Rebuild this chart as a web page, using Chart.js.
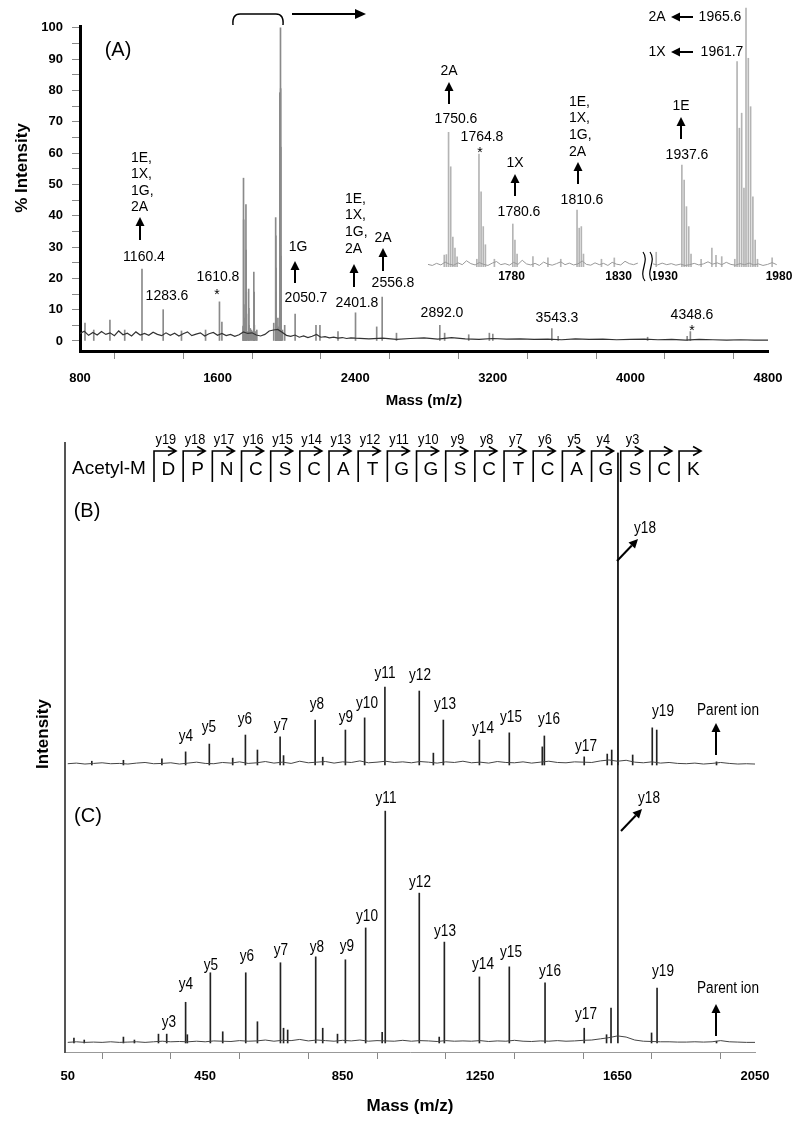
<!DOCTYPE html>
<html><head><meta charset="utf-8">
<script src="https://cdn.jsdelivr.net/npm/chart.js@4.4.0/dist/chart.umd.min.js"></script>
<style>
html,body{margin:0;padding:0;background:#fff;}
#wrap{position:relative;width:800px;height:1128px;overflow:hidden;background:#fff;}
canvas{position:absolute;}
</style></head><body>
<div id="wrap">
<canvas id="cA" width="800" height="420" style="left:0;top:0;width:800px;height:420px"></canvas>
<canvas id="cI1" width="212" height="290" style="left:428px;top:0;width:212px;height:290px"></canvas>
<canvas id="cI2" width="147" height="290" style="left:653px;top:0;width:147px;height:290px"></canvas>
<canvas id="cBC" width="800" height="718" style="left:0;top:410px;width:800px;height:718px"></canvas>
</div>
<script>
// ---------------- DATA ----------------
// Panel A (MALDI spectrum, % intensity) - peak list (also used by the zoomed inset)
const peaksA_mz = [829, 880, 974, 1060, 1160.4, 1283.6, 1390, 1530, 1610.8, 1625,
  1748.6, 1749.6, 1750.6, 1751.6, 1752.6, 1753.6, 1754.6,
  1763.8, 1764.8, 1765.8, 1766.8, 1767.8, 1772,
  1780.6, 1781.6, 1782.6, 1790, 1797, 1803,
  1810.6, 1811.6, 1812.6, 1813.6, 1822, 1828,
  1926.4, 1937.6, 1938.6, 1939.6, 1940.6, 1941.6, 1946, 1950.7, 1952.5, 1955,
  1960.7, 1961.7, 1962.7, 1963.7, 1964.7, 1965.6, 1966.6, 1967.6, 1968.6, 1969.6, 1970.6,
  1977, 1990, 2050.7, 2172, 2195, 2300, 2401.8, 2525, 2556.8, 2640,
  2892, 2920, 3060, 3180, 3200, 3543.3, 3580, 4100, 4330, 4348.6];
const peaksA_int = [5.7, 3.5, 6.7, 3.5, 23, 10, 3.2, 3.5, 12.5, 6,
  4.6, 4.8, 52, 38.7, 11.6, 7.3, 3.9,
  3, 43.6, 29, 15.6, 8.6, 3,
  16.6, 10.4, 5, 4, 3.5, 3,
  22, 15, 15.6, 5, 3, 3.5,
  5.7, 39.4, 33.6, 23.3, 15.6, 5, 3, 7.3, 4.5, 4,
  3, 79.3, 53.6, 59.4, 30.5, 100, 80.6, 61.9, 27.1, 10.4, 3,
  3.5, 5, 8.6, 5, 5, 3, 9, 4.5, 14, 2.5,
  5, 2.5, 2, 2.5, 2.2, 4, 1.5, 1.2, 1.5, 3];
// Panel A baseline (sampled every 25 Da from 800, then every 80 Da from 2480)
const noiseA1_start = 800, noiseA1_step = 25;
const noiseA1 = [2.4,3.1,1.8,2.7,1.9,3.0,2.1,2.6,1.7,3.2,2.0,2.5,1.6,2.9,1.9,2.4,1.8,2.8,2.1,1.7,
  2.6,1.8,2.5,1.6,2.3,2.9,1.7,2.2,2.6,1.6,2.3,2.7,1.8,2.4,1.7,2.1,1.5,2.0,2.9,2.4,
  2.6,1.9,1.6,2.1,3.2,3.5,3.7,2.8,1.8,1.5,1.9,1.2,1.6,1.1,1.5,2.1,1.2,1.4,1.0,1.2,
  0.9,1.1,0.8,1.0,0.9];
const noiseA2_start = 2480, noiseA2_step = 80;
const noiseA2 = [0.7,0.9,0.5,0.8,1.0,0.6,1.1,0.7,0.5,0.8,0.6,0.7,0.5,0.6,0.4,0.7,0.5,0.6,0.4,0.5,
  0.6,0.4,0.5,0.3,0.5,0.4,0.3,0.4,0.3,0.3];
// Inset baselines (every 2 Da)
const noiseI1_start = 1741, noiseI1_step = 2;
const noiseI1 = [1.0,0.6,1.4,0.8,1.9,1.1,0.7,1.6,0.9,2.4,1.3,0.8,1.7,1.0,0.6,1.5,2.1,0.9,1.3,0.7,
  1.8,1.0,2.6,1.2,0.8,1.4,0.6,1.9,1.1,0.7,1.3,2.0,0.9,1.5,0.8,1.2,2.3,1.0,0.7,1.6,
  0.9,1.4,0.6,1.8,1.1,0.8,2.2,1.3,0.9,1.5];
const noiseI2_start = 1925, noiseI2_step = 2;
const noiseI2 = [1.2,0.8,1.5,0.9,1.3,0.7,1.1,0.6,0.9,1.4,0.8,1.2,2.0,1.1,1.6,0.9,1.8,1.0,0.7,1.3,
  0.9,1.5,0.8,1.2,0.6,1.0,1.7,0.9];

// Panel B (MS/MS, intensity relative to y18)
const peaksB_mz = [120, 212, 324, 393, 462, 530, 567, 602, 668, 678,
  770, 792, 858, 914, 973, 1073, 1114, 1143, 1248, 1335,
  1431, 1437, 1553, 1620, 1633, 1651, 1694, 1751, 1764, 1938];
const peaksB_int = [1.2, 1.5, 2.0, 4.2, 6.7, 2.2, 9.6, 4.8, 9.0, 3.0,
  14.4, 2.5, 11.2, 15.1, 25, 23.7, 3.8, 14.4, 8.0, 10.3,
  5.8, 9.3, 2.6, 3.5, 4.8, 100, 3.2, 11.9, 11.2, 1.0];
// Panel C
const peaksC_mz = [68, 98, 212, 244, 314, 338, 393, 398, 465, 501,
  568, 602, 669, 678, 690, 771.6, 792, 835, 858, 917,
  965, 974, 1073, 1131, 1146, 1248, 1335, 1439, 1553, 1618,
  1631, 1651, 1749, 1765, 1938];
const peaksC_int = [0.85, 0.5, 1.0, 0.5, 1.5, 1.5, 6.9, 1.4, 11.9, 1.9,
  11.9, 3.6, 13.6, 2.5, 2.2, 14.6, 2.5, 1.5, 14.1, 19.5,
  1.8, 39.3, 25.4, 1.0, 17.1, 11.2, 12.9, 10.2, 2.5, 1.4,
  5.9, 100, 1.7, 9.3, 0.3];
// baselines of B and C (every 25 Da from 50)
const noiseBC_start = 50, noiseBC_step = 25;
const noiseB = [0.4,0.6,0.3,0.5,0.7,0.4,0.5,0.3,0.6,0.8,0.4,0.5,0.7,0.3,0.6,0.9,0.5,0.4,0.8,0.6,
  1.0,0.5,0.7,1.1,0.6,0.9,0.5,1.2,0.7,0.9,1.1,0.6,1.0,0.8,1.3,0.7,0.9,1.2,0.8,1.0,
  0.7,1.1,0.9,0.6,1.0,0.8,1.2,0.7,0.9,0.6,1.1,0.8,0.7,1.0,0.6,0.9,1.2,0.8,0.7,1.0,
  0.9,0.8,1.3,1.6,1.2,1.5,0.9,0.7,1.0,0.6,0.8,0.5,0.4,0.6,0.3,0.5,0.8,0.5,0.3,0.4,0.3];
const noiseC = [0.1,0.2,0.1,0.15,0.1,0.2,0.1,0.15,0.2,0.1,0.2,0.3,0.2,0.25,0.2,0.3,0.2,0.35,0.3,0.25,
  0.4,0.3,0.35,0.5,0.3,0.45,0.4,0.6,0.35,0.5,0.4,0.3,0.45,0.35,0.5,0.3,0.4,0.35,0.3,0.45,
  0.3,0.4,0.35,0.25,0.4,0.3,0.35,0.3,0.4,0.25,0.35,0.3,0.45,0.3,0.25,0.35,0.3,0.4,0.3,0.35,
  0.45,0.5,0.7,0.9,1.2,1.0,0.5,0.3,0.25,0.2,0.2,0.15,0.15,0.2,0.15,0.2,0.4,0.2,0.15,0.1,0.1];

// Tick labels
const ticksA_x = [800,1200,1600,2000,2400,2800,3200,3600,4000,4400,4800];
const labelsA_x = [800,1600,2400,3200,4000,4800];
const ticksA_y = [0,5,10,15,20,25,30,35,40,45,50,55,60,65,70,75,80,85,90,95,100];
const labelsA_y = [0,10,20,30,40,50,60,70,80,90,100];
const ticksInset1 = [1780,1830];
const ticksInset2 = [1930,1980];
const ticksBC_x = [50,250,450,650,850,1050,1250,1450,1650,1850,2050];
const labelsBC_x = [50,450,850,1250,1650,2050];

// Peptide sequence
const seqPrefix = 'Acetyl-M';
const seqLetters = ['D','P','N','C','S','C','A','T','G','G','S','C','T','C','A','G','S','C','K'];
const seqIons = ['y19','y18','y17','y16','y15','y14','y13','y12','y11','y10','y9','y8','y7','y6','y5','y4','y3'];

// ---------------- HELPERS ----------------
const FONT = 'Arial, "Liberation Sans", Helvetica, sans-serif';
Chart.defaults.font.family = FONT;
Chart.defaults.color = '#000';
const zip = (xs, ys) => xs.map((x, i) => ({x: x, y: ys[i]}));
const grid = (start, step, ys) => ys.map((y, i) => ({x: start + i * step, y: y}));

function T(ctx, s, x, y, size, opt) {
  opt = opt || {};
  ctx.save();
  ctx.fillStyle = '#000';
  ctx.font = (opt.bold ? 'bold ' : '') + size + 'px ' + FONT;
  ctx.textAlign = opt.align || 'center';
  ctx.textBaseline = 'middle';
  ctx.translate(x, y);
  if (opt.rot) ctx.rotate(opt.rot);
  if (opt.sx) ctx.scale(opt.sx, 1);
  ctx.fillText(s, 0, 0);
  ctx.restore();
}
function arrow(ctx, x1, y1, x2, y2, hl, hw, lw) {
  hl = hl || 9; hw = hw || 4.5; lw = lw || 2;
  const a = Math.atan2(y2 - y1, x2 - x1);
  const bx = x2 - hl * Math.cos(a), by = y2 - hl * Math.sin(a);
  ctx.save();
  ctx.strokeStyle = '#000'; ctx.fillStyle = '#000'; ctx.lineWidth = lw;
  ctx.beginPath(); ctx.moveTo(x1, y1); ctx.lineTo(bx, by); ctx.stroke();
  ctx.beginPath();
  ctx.moveTo(x2, y2);
  ctx.lineTo(bx + hw * Math.sin(a), by - hw * Math.cos(a));
  ctx.lineTo(bx - hw * Math.sin(a), by + hw * Math.cos(a));
  ctx.closePath(); ctx.fill();
  ctx.restore();
}
function stack(ctx, lines, x, y0, dy, size) {
  lines.forEach((s, i) => T(ctx, s, x, y0 + i * dy, size, {align: 'left'}));
}

// ---------------- PANEL A ----------------
const annA = {
  id: 'annA',
  afterDraw(chart) {
    const c = chart.ctx;
    T(c, '% Intensity', 22, 168, 17, {bold: true, rot: -Math.PI / 2});
    T(c, '(A)', 118, 50, 20);
    // main panel labels
    stack(c, ['1E,', '1X,', '1G,', '2A'], 131, 158, 16.4, 14);
    arrow(c, 140, 240, 140, 217);
    T(c, '1160.4', 144, 257, 14);
    T(c, '1283.6', 167, 296, 14);
    T(c, '1610.8', 218, 277, 14);
    T(c, '*', 217, 295, 14);
    T(c, '1G', 298, 247, 14);
    arrow(c, 295, 283, 295, 261);
    T(c, '2050.7', 306, 298, 14);
    stack(c, ['1E,', '1X,', '1G,', '2A'], 345, 199, 16.6, 14);
    arrow(c, 354, 287, 354, 264);
    T(c, '2401.8', 357, 303, 14);
    T(c, '2A', 383, 238, 14);
    arrow(c, 383, 271, 383, 248);
    T(c, '2556.8', 393, 283, 14);
    T(c, '2892.0', 442, 313, 14);
    T(c, '3543.3', 557, 318, 14);
    T(c, '4348.6', 692, 315, 14);
    T(c, '*', 692, 331, 14);
    // bracket + arrow pointing to the inset
    c.save();
    c.strokeStyle = '#000'; c.lineWidth = 1.5;
    c.beginPath();
    c.moveTo(233, 25); c.quadraticCurveTo(232, 14, 240, 14);
    c.lineTo(276, 14); c.quadraticCurveTo(284, 14, 283, 25);
    c.stroke();
    c.restore();
    arrow(c, 292, 14, 366, 14, 11, 5, 2);
    // inset labels
    T(c, '2A', 449, 71, 14);
    arrow(c, 449, 104, 449, 82);
    T(c, '1750.6', 456, 119, 14);
    T(c, '1764.8', 482, 137, 14);
    T(c, '*', 480, 153, 14);
    T(c, '1X', 515, 163, 14);
    arrow(c, 515, 196, 515, 174);
    T(c, '1780.6', 519, 212, 14);
    stack(c, ['1E,', '1X,', '1G,', '2A'], 569, 102, 16.6, 14);
    arrow(c, 578, 184, 578, 162);
    T(c, '1810.6', 582, 200, 14);
    T(c, '1E', 681, 106, 14);
    arrow(c, 681, 139, 681, 117);
    T(c, '1937.6', 687, 155, 14);
    T(c, '2A', 657, 17, 14);
    arrow(c, 693, 17, 671, 17);
    T(c, '1965.6', 720, 17, 14);
    T(c, '1X', 657, 52, 14);
    arrow(c, 693, 52, 671, 52);
    T(c, '1961.7', 722, 52, 14);
    // axis break
    c.save();
    c.strokeStyle = '#000'; c.lineWidth = 1.2;
    [0, 7].forEach(d => {
      c.beginPath();
      c.moveTo(643 + d, 252);
      c.bezierCurveTo(650 + d, 261, 638 + d, 272, 645 + d, 281);
      c.stroke();
    });
    c.restore();
  }
};

new Chart(document.getElementById('cA'), {
  type: 'bar',
  data: {
    datasets: [
      {type: 'line', data: grid(noiseA1_start, noiseA1_step, noiseA1).concat(grid(noiseA2_start, noiseA2_step, noiseA2)),
       borderColor: '#333', borderWidth: 1.2, pointRadius: 0, tension: 0},
      {type: 'bar', data: zip(peaksA_mz, peaksA_int), backgroundColor: '#8a8a8a',
       barThickness: 1, borderWidth: 0, grouped: false}
    ]
  },
  options: {
    responsive: false, animation: false, devicePixelRatio: 1,
    layout: {padding: {top: 26, right: 32, left: 0, bottom: 0}},
    plugins: {legend: {display: false}, tooltip: {enabled: false}},
    scales: {
      x: {type: 'linear', min: 800, max: 4800, offset: false,
        afterBuildTicks: s => { s.ticks = ticksA_x.map(v => ({value: v})); },
        afterFit: s => { s.height = 69; },
        ticks: {autoSkip: false, maxRotation: 0, padding: 12, font: {size: 13, weight: 'bold'},
          callback: v => labelsA_x.includes(v) ? String(v) : ''},
        grid: {display: true, drawOnChartArea: false, drawTicks: true, tickLength: 8, color: '#888'},
        border: {display: true, color: '#000', width: 3},
        title: {display: true, text: 'Mass (m/z)', font: {size: 15, weight: 'bold'}, padding: {top: 0, bottom: 10}}
      },
      y: {min: -3.2, max: 100.6,
        afterBuildTicks: s => { s.ticks = ticksA_y.map(v => ({value: v})); },
        afterFit: s => { s.width = 80; },
        ticks: {autoSkip: false, padding: 9, font: {size: 13, weight: 'bold'},
          callback: v => labelsA_y.includes(v) ? String(v) : ''},
        grid: {display: true, drawOnChartArea: false, drawTicks: true, tickLength: 8, color: '#888'},
        border: {display: true, color: '#000', width: 3}
      }
    }
  },
  plugins: [annA]
});

// ---------------- INSET ----------------
function insetChart(id, xmin, xmax, padRight, noise, ticks) {
  new Chart(document.getElementById(id), {
    type: 'bar',
    data: {
      datasets: [
        {type: 'line', data: noise, borderColor: '#999', borderWidth: 1, pointRadius: 0, tension: 0},
        {type: 'bar', data: zip(peaksA_mz, peaksA_int), backgroundColor: '#b4b4b4',
         barThickness: 1, borderWidth: 0, grouped: false}
      ]
    },
    options: {
      responsive: false, animation: false, devicePixelRatio: 1,
      layout: {padding: {top: 0, right: padRight, left: 0, bottom: 23}},
      plugins: {legend: {display: false}, tooltip: {enabled: false}},
      scales: {
        x: {type: 'linear', display: false, min: xmin, max: xmax, offset: false},
        y: {display: false, min: 0, max: 103.1}
      }
    },
    plugins: [{
      id: 'insetTicks',
      afterDraw(chart) {
        const sx = chart.scales.x;
        ticks.forEach(v => T(chart.ctx, String(v), sx.getPixelForValue(v), 277, 12, {bold: true}));
      }
    }]
  });
}
insetChart('cI1', 1741, 1840, 0, grid(noiseI1_start, noiseI1_step, noiseI1), ticksInset1);
insetChart('cI2', 1925, 1980, 21, grid(noiseI2_start, noiseI2_step, noiseI2), ticksInset2);

// ---------------- PANELS B & C ----------------
const annBC = {
  id: 'annBC',
  afterDraw(chart) {
    const c = chart.ctx;
    c.save();
    c.translate(0, -410);
    T(c, 'Intensity', 43, 734, 17, {bold: true, rot: -Math.PI / 2});
    // sequence
    T(c, seqPrefix, 72, 469, 19, {align: 'left'});
    const x0 = 168.3, dx = 29.17;
    c.strokeStyle = '#000'; c.lineWidth = 1.6;
    seqLetters.forEach((L, i) => {
      const cx = x0 + i * dx;
      T(c, L, cx, 470, 19);
      const bx = cx - 14.3;
      c.beginPath();
      c.moveTo(bx, 482); c.lineTo(bx, 451); c.lineTo(bx + 22, 451);
      c.moveTo(bx + 14, 446.5); c.lineTo(bx + 22, 451); c.lineTo(bx + 14, 455.5);
      c.stroke();
      if (i < seqIons.length) T(c, seqIons[i], cx - 2.5, 440, 15, {sx: 0.85});
    });
    T(c, '(B)', 87, 511, 20);
    T(c, '(C)', 88, 816, 20);
    const lb = [['y4',186,737],['y5',209,728],['y6',245,720],['y7',281,726],['y8',317,705],['y9',346,718],
      ['y10',367,704],['y11',385,674],['y12',420,676],['y13',445,705],['y14',483,729],['y15',511,718],
      ['y16',549,720],['y17',586,747],['y18',645,529],['y19',663,712],['Parent ion',728,711]];
    lb.forEach(a => T(c, a[0], a[1], a[2], 16, {sx: 0.85}));
    arrow(c, 617, 561, 638, 539);
    arrow(c, 716, 755, 716, 723);
    const lc = [['y3',169,1023],['y4',186,985],['y5',211,966],['y6',247,957],['y7',281,951],['y8',317,948],
      ['y9',347,947],['y10',367,917],['y11',386,799],['y12',420,883],['y13',445,932],['y14',483,965],
      ['y15',511,953],['y16',550,972],['y17',586,1015],['y18',649,799],['y19',663,972],['Parent ion',728,989]];
    lc.forEach(a => T(c, a[0], a[1], a[2], 16, {sx: 0.85}));
    arrow(c, 621, 831, 642, 809);
    arrow(c, 716, 1036, 716, 1004);
    c.restore();
  }
};

new Chart(document.getElementById('cBC'), {
  type: 'bar',
  data: {
    datasets: [
      {type: 'line', yAxisID: 'yB', data: grid(noiseBC_start, noiseBC_step, noiseB),
       borderColor: '#444', borderWidth: 1, pointRadius: 0, tension: 0},
      {type: 'bar', yAxisID: 'yB', data: zip(peaksB_mz, peaksB_int), backgroundColor: '#222',
       barThickness: 1, borderWidth: 0, grouped: false},
      {type: 'line', yAxisID: 'yC', data: grid(noiseBC_start, noiseBC_step, noiseC),
       borderColor: '#444', borderWidth: 1, pointRadius: 0, tension: 0},
      {type: 'bar', yAxisID: 'yC', data: zip(peaksC_mz, peaksC_int), backgroundColor: '#222',
       barThickness: 1, borderWidth: 0, grouped: false}
    ]
  },
  options: {
    responsive: false, animation: false, devicePixelRatio: 1,
    layout: {padding: {top: 33, right: 45, left: 0, bottom: 0}},
    plugins: {legend: {display: false}, tooltip: {enabled: false}},
    scales: {
      x: {type: 'linear', min: 42, max: 2050, offset: false,
        afterBuildTicks: s => { s.ticks = ticksBC_x.map(v => ({value: v})); },
        afterFit: s => { s.height = 76; },
        ticks: {autoSkip: false, maxRotation: 0, padding: 10, font: {size: 13, weight: 'bold'},
          callback: v => labelsBC_x.includes(v) ? String(v) : ''},
        grid: {display: true, drawOnChartArea: false, drawTicks: true, tickLength: 7, color: '#888'},
        border: {display: true, color: '#999', width: 1},
        title: {display: true, text: 'Mass (m/z)', font: {size: 17, weight: 'bold'}, padding: {top: 0, bottom: 11}}
      },
      yC: {position: 'left', min: -1.53, max: 101.7,
        afterFit: s => { s.width = 65; },
        ticks: {display: false}, grid: {display: false},
        border: {display: true, color: '#555', width: 2}
      },
      yB: {position: 'left', display: false, min: -92, max: 103.2}
    }
  },
  plugins: [annBC]
});
</script>
</body></html>
